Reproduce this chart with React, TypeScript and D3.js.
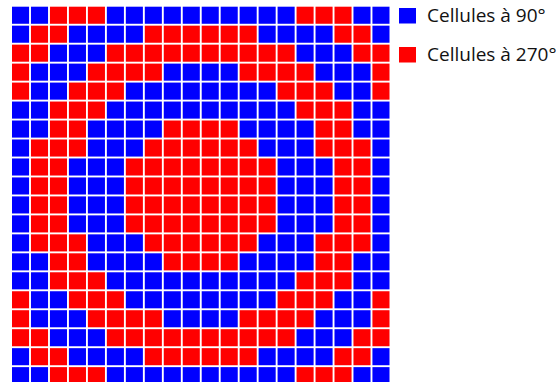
import React from "react";
import * as d3 from "d3";

// 20x20 grid: B = cell at 90°, R = cell at 270°
const gridRows: string[] = [
  "BBRRRBBBBBBBBBBRRRBB",
  "BRRBBBBRRRRRRBBBBRRB",
  "RRBBBRRRRRRRRRRBBBRR",
  "RBBBRRRRBBBBRRRRBBBR",
  "RBBRRRBBBBBBBBRRRBBR",
  "BBRRRBBBBBBBBBBRRRBB",
  "BBRRBBBBRRRRBBBBRRBB",
  "BRRRBBBRRRRRRBBBRRRB",
  "BRRBBBRRRRRRRRBBBRRB",
  "BRRBBBRRRRRRRRBBBRRB",
  "BRRBBBRRRRRRRRBBBRRB",
  "BRRBBBRRRRRRRRBBBRRB",
  "BRRRBBBRRRRRRBBBRRRB",
  "BBRRBBBBRRRRBBBBRRBB",
  "BBRRRBBBBBBBBBBRRRBB",
  "RBBRRRBBBBBBBBRRRBBR",
  "RBBBRRRRBBBBRRRRBBBR",
  "RRBBBRRRRRRRRRRBBBRR",
  "BRRBBBBRRRRRRBBBBRRB",
  "BBRRRBBBBBBBBBBRRRBB",
];

const legendKeys: string[] = ["B", "R"];
const legendLabels: string[] = ["Cellules à 90°", "Cellules à 270°"];

const colorOf: Record<string, string> = { B: "#0000ff", R: "#ff0000" };

export default function App() {
  const W = 557;
  const H = 382;
  const nCols = gridRows[0].length;
  const nRows = gridRows.length;
  const idxC = d3.range(nCols);
  const idxR = d3.range(nRows);

  const x = d3.scaleBand<number>().domain(idxC).range([12, 389.5]).paddingInner(0.1).paddingOuter(0);
  const y = d3.scaleBand<number>().domain(idxR).range([6.7, 384.2]).paddingInner(0.1).paddingOuter(0);

  const legendY = d3.scaleBand<number>().domain(d3.range(legendKeys.length)).range([8, 86]);

  return (
    <svg width={W} height={H} style={{ position: "absolute", left: 0, top: 0, background: "#fff" }}>
      <rect x={0} y={0} width={W} height={H} fill="#fff" />
      <g>
        {gridRows.map((row, r) =>
          row.split("").map((c, ci) => (
            <rect
              key={`${r}-${ci}`}
              x={x(ci)}
              y={y(r)}
              width={x.bandwidth()}
              height={y.bandwidth()}
              fill={colorOf[c]}
            />
          ))
        )}
      </g>
      <g>
        {legendKeys.map((k, i) => (
          <g key={k} transform={`translate(0,${legendY(i)})`}>
            <rect x={399} y={0} width={17} height={15.5} fill={colorOf[k]} />
            <text
              x={427}
              y={13.5}
              fontFamily="'Open Sans', sans-serif"
              fontSize={19}
              fill="#111"
            >
              {legendLabels[i]}
            </text>
          </g>
        ))}
      </g>
    </svg>
  );
}
